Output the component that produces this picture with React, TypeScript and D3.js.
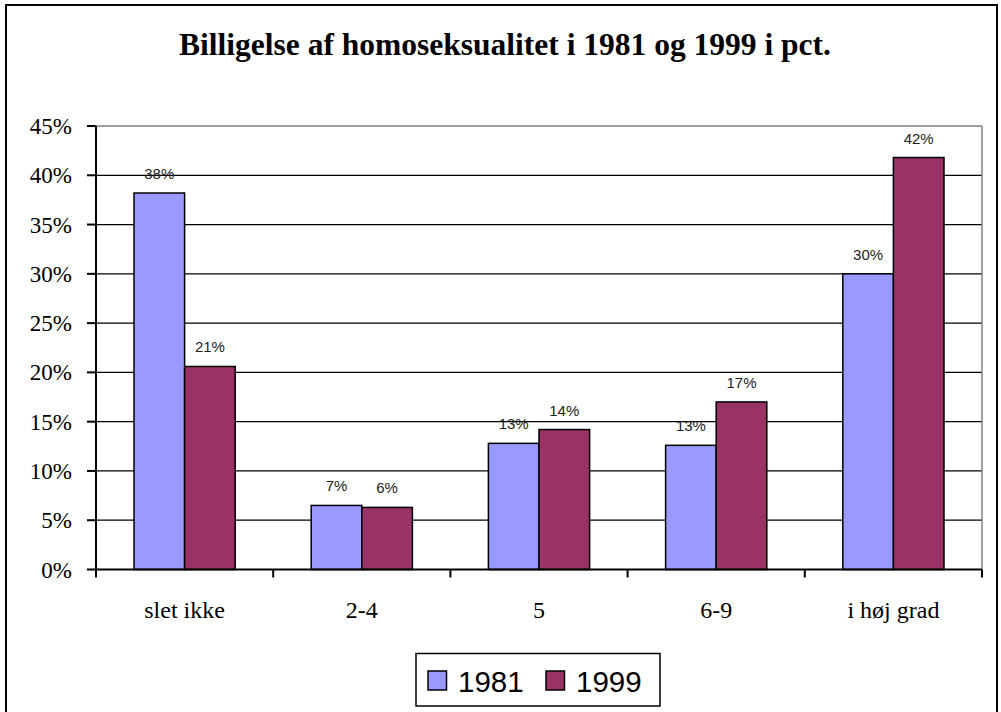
import React from "react";
import * as d3 from "d3";

const categories = ["slet ikke", "2-4", "5", "6-9", "i høj grad"];
const series = ["1981", "1999"];
const values1981 = [38.2, 6.5, 12.8, 12.6, 30.0];
const values1999 = [20.6, 6.3, 14.2, 17.0, 41.8];
const labels1981 = ["38%", "7%", "13%", "13%", "30%"];
const labels1999 = ["21%", "6%", "14%", "17%", "42%"];
const yTicks = [0, 5, 10, 15, 20, 25, 30, 35, 40, 45];
const colors = ["#9999FF", "#993366"];
const title = "Billigelse af homoseksualitet i 1981 og 1999 i pct.";

const SERIF = "'Liberation Serif', 'Times New Roman', Times, 'DejaVu Serif', serif";
const SANS = "'Liberation Sans', Arial, Helvetica, sans-serif";

export default function App() {
  const W = 1001, H = 712;
  const left = 96, right = 982, top = 126, bottom = 569.5;
  const x0 = d3.scaleBand<string>().domain(categories).range([left, right]).padding(0);
  const bw = x0.bandwidth();
  const x1 = d3.scaleBand<string>().domain(series).range([38, bw - 38]).padding(0);
  const y = d3.scaleLinear().domain([0, 45]).range([bottom, top]);
  const data = [values1981, values1999];
  const labs = [labels1981, labels1999];
  const boundaries = d3.range(categories.length + 1).map((i) => left + i * bw);

  return (
    <svg width={W} height={H} style={{ position: "absolute", left: 0, top: 0 }}>
      <rect x={0} y={0} width={W} height={H} fill="white" />
      <rect x={6} y={5} width={991} height={720} fill="white" stroke="black" strokeWidth={2} />
      <text x={505} y={55} textAnchor="middle" style={{ fontFamily: SERIF, fontWeight: "bold", fontSize: "31.5px" }}>
        {title}
      </text>
      {yTicks.slice(1, -1).map((t) => (
        <line key={t} x1={left} x2={right} y1={y(t)} y2={y(t)} stroke="black" strokeWidth={1.2} />
      ))}
      <line x1={left} x2={right} y1={top} y2={top} stroke="#808080" strokeWidth={1.5} />
      <line x1={right} x2={right} y1={top} y2={bottom} stroke="#808080" strokeWidth={1.5} />
      {categories.map((c, i) =>
        series.map((s, j) => {
          const bx = (x0(c) as number) + (x1(s) as number);
          const v = data[j][i];
          return (
            <g key={c + s}>
              <rect x={bx} y={y(v)} width={x1.bandwidth()} height={y(0) - y(v)} fill={colors[j]} stroke="black" strokeWidth={1.5} />
              <text x={bx + x1.bandwidth() / 2} y={y(v) - 14} textAnchor="middle" style={{ fontFamily: SANS, fontSize: "15px" }} fill="#222">
                {labs[j][i]}
              </text>
            </g>
          );
        })
      )}
      <line x1={left} x2={left} y1={top} y2={bottom} stroke="black" strokeWidth={2} />
      <line x1={left} x2={right} y1={bottom} y2={bottom} stroke="black" strokeWidth={2} />
      {yTicks.map((t) => (
        <g key={t}>
          <line x1={87} x2={left} y1={y(t)} y2={y(t)} stroke="black" strokeWidth={2} />
          <text x={72} y={y(t) + 8} textAnchor="end" style={{ fontFamily: SERIF, fontSize: "23px" }}>
            {t + "%"}
          </text>
        </g>
      ))}
      {boundaries.map((b, i) => (
        <line key={i} x1={b} x2={b} y1={bottom} y2={577.5} stroke="black" strokeWidth={2} />
      ))}
      {categories.map((c) => (
        <text key={c} x={(x0(c) as number) + bw / 2} y={618} textAnchor="middle" style={{ fontFamily: SERIF, fontSize: "24px" }}>
          {c}
        </text>
      ))}
      <rect x={416} y={653.5} width={244} height={52.5} fill="white" stroke="black" strokeWidth={1.5} />
      {series.map((s, j) => {
        const lx = [428, 546][j];
        return (
          <g key={s}>
            <rect x={lx} y={671} width={18.5} height={19} fill={colors[j]} stroke="black" strokeWidth={1.5} />
            <text x={lx + 30} y={691.5} style={{ fontFamily: SANS, fontSize: "29.5px" }}>
              {s}
            </text>
          </g>
        );
      })}
    </svg>
  );
}
